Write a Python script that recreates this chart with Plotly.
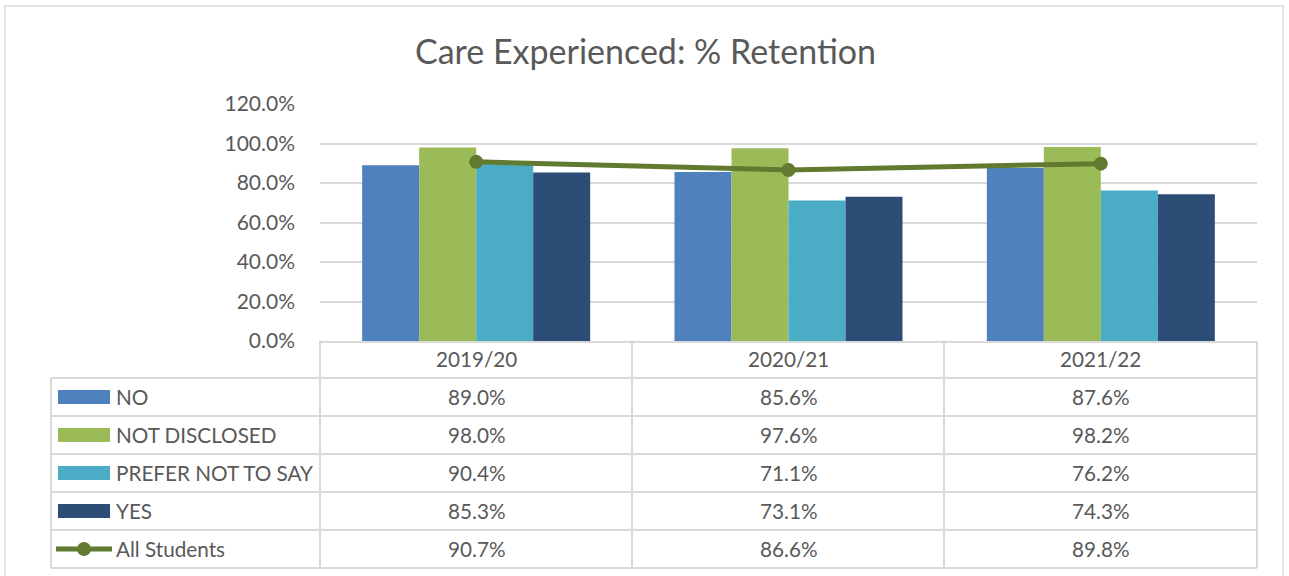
import plotly.graph_objects as go

categories = ["2019/20", "2020/21", "2021/22"]
series_names = ["NO", "NOT DISCLOSED", "PREFER NOT TO SAY", "YES"]
no_vals = [0.890, 0.856, 0.876]
not_disclosed_vals = [0.980, 0.976, 0.982]
prefer_not_vals = [0.904, 0.711, 0.762]
yes_vals = [0.853, 0.731, 0.743]
all_students_name = "All Students"
all_students_vals = [0.907, 0.866, 0.898]
y_ticks = [0, 0.2, 0.4, 0.6, 0.8, 1.0, 1.2]
title_text = "Care Experienced: % Retention"

bar_colors = ["#4F81BD", "#9BBB59", "#4BACC6", "#2C4D75"]
line_color = "#617A30"
grid_color = "#D9D9D9"
text_color = "#595959"
FONT = "Lato"

W, H = 1289, 576
def px(x): return x / W
def py(y): return 1 - y / H

fig = go.Figure()
bar_series = [no_vals, not_disclosed_vals, prefer_not_vals, yes_vals]
for name, vals, col in zip(series_names, bar_series, bar_colors):
    fig.add_trace(go.Bar(x=categories, y=vals, name=name, marker_color=col,
                         marker_line_width=0, showlegend=False, hoverinfo="skip"))
fig.add_trace(go.Scatter(x=categories, y=all_students_vals, name=all_students_name,
                         mode="lines+markers", line=dict(color=line_color, width=5),
                         marker=dict(size=14, color=line_color), showlegend=False,
                         hoverinfo="skip"))

shapes = []
shapes.append(dict(type="rect", xref="paper", yref="paper", x0=px(5), x1=px(1283),
                   y0=py(590), y1=py(6), line=dict(color="#D9D9D9", width=1.5)))
lc = dict(color=grid_color, width=2)
row_ys = [378, 416, 454, 492, 530, 568]
for yy in row_ys:
    shapes.append(dict(type="line", xref="paper", yref="paper", x0=px(51), x1=px(1257),
                       y0=py(yy), y1=py(yy), line=lc))
for xx in [320, 632, 944, 1257]:
    shapes.append(dict(type="line", xref="paper", yref="paper", x0=px(xx), x1=px(xx),
                       y0=py(341), y1=py(568), line=lc))
shapes.append(dict(type="line", xref="paper", yref="paper", x0=px(51), x1=px(51),
                   y0=py(378), y1=py(568), line=lc))

annotations = []
annotations.append(dict(text=title_text, xref="paper", yref="paper", x=px(645), y=py(50),
                        showarrow=False, font=dict(family=FONT, size=34, color=text_color),
                        xanchor="center", yanchor="middle"))
tfont = dict(family=FONT, size=20.7, color=text_color)
for c in categories:
    annotations.append(dict(text=c, xref="x", yref="paper", x=c, y=py(359), showarrow=False,
                            font=tfont, xanchor="center", yanchor="middle"))
all_rows = bar_series + [all_students_vals]
all_names = series_names + [all_students_name]
row_centers = [397, 435, 473, 511, 549]
for name, vals, yc, i in zip(all_names, all_rows, row_centers, range(5)):
    annotations.append(dict(text=name, xref="paper", yref="paper", x=px(114), y=py(yc),
                            showarrow=False, font=tfont, xanchor="left", yanchor="middle"))
    for c, v in zip(categories, vals):
        annotations.append(dict(text=f"{v*100:.1f}%", xref="x", yref="paper", x=c, y=py(yc),
                                showarrow=False, font=tfont, xanchor="center", yanchor="middle"))
    if i < 4:
        shapes.append(dict(type="rect", xref="paper", yref="paper", x0=px(58), x1=px(110),
                           y0=py(yc + 7), y1=py(yc - 7), fillcolor=bar_colors[i], line_width=0))
    else:
        shapes.append(dict(type="line", xref="paper", yref="paper", x0=px(56), x1=px(112),
                           y0=py(yc), y1=py(yc), line=dict(color=line_color, width=5)))
        shapes.append(dict(type="circle", xref="paper", yref="paper", x0=px(77), x1=px(91),
                           y0=py(yc + 7), y1=py(yc - 7), fillcolor=line_color, line_width=0))

fig.update_layout(
    width=W, height=H, margin=dict(l=0, r=0, t=0, b=0, pad=0, autoexpand=False),
    paper_bgcolor="white", plot_bgcolor="white",
    barmode="group", bargap=0.27, bargroupgap=0,
    shapes=shapes, annotations=annotations,
    xaxis=dict(domain=[px(320), px(1257)], showticklabels=False, showgrid=False,
               showline=True, linecolor=grid_color, linewidth=2, zeroline=False,
               automargin=False, fixedrange=True),
    yaxis=dict(domain=[py(341), py(104)], range=[0, 1.2], tickvals=y_ticks,
               tickformat=".1%", showgrid=True, gridcolor=grid_color, gridwidth=1.5,
               zeroline=False, showline=False, ticklabelstandoff=24, automargin=False,
               fixedrange=True,
               tickfont=dict(family=FONT, size=21, color=text_color)),
)
fig.write_html("out.html", config={"displayModeBar": False},
               post_script="document.body.style.margin='0';document.body.style.overflow='hidden';")
